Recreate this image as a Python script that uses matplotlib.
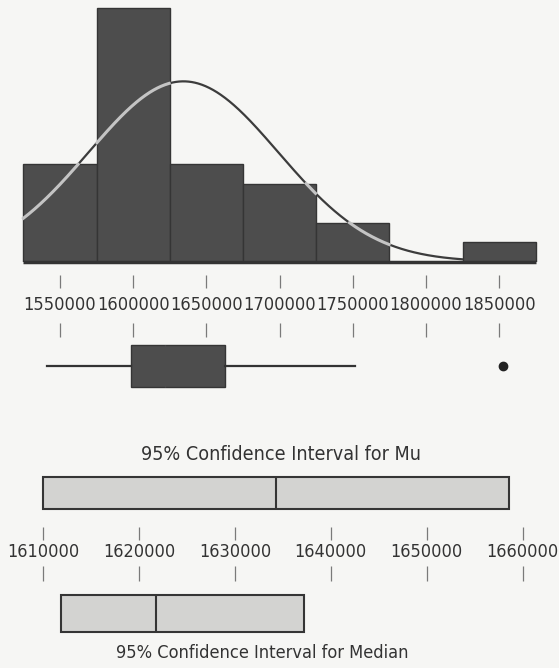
import numpy as np
import matplotlib
matplotlib.use("Agg")
import matplotlib.pyplot as plt
from matplotlib import font_manager as fm

# histogram of the 30 observations (Minitab style midpoints)
midpoints = [1550000, 1600000, 1650000, 1700000, 1750000, 1800000, 1850000]
counts = [5, 13, 5, 4, 2, 0, 1]
bin_width = 50000

# fitted normal curve
mean = 1634300
sd = 64800

# boxplot stats
q1 = 1598300
median = 1621730
q3 = 1662900
whisker_lo = 1540900
whisker_hi = 1751500
outliers = [1852800]

# confidence intervals
mu_ci = (1610000, 1658600)
median_ci = (1611850, 1637220)

top_ticks = [1550000, 1600000, 1650000, 1700000, 1750000, 1800000, 1850000]
bot_ticks = [1610000, 1620000, 1630000, 1640000, 1650000, 1660000]

W, H = 559, 668
bg = "#f6f6f4"
dark = "#4d4d4d"
edge = "#353535"
light_fill = "#d3d3d1"
tick_col = "#7a7a7a"
txt_col = "#333333"

top_xlim = (1509000, 1890850)
bot_xlim = (1605500, 1663800)

# pick the narrowest sans available
font_kw = dict(family="DejaVu Sans")
for fam, stretch in [("Liberation Sans Narrow", "normal"), ("DejaVu Sans", "condensed")]:
    try:
        path = fm.findfont(fm.FontProperties(family=fam, stretch=stretch), fallback_to_default=False)
        if "Narrow" in path or "Condensed" in path:
            font_kw = dict(family=fam, stretch=stretch)
            break
    except Exception:
        pass


def band(top, bottom):
    return [0, 1 - bottom / H, 1, (bottom - top) / H]


fig = plt.figure(figsize=(W / 100, H / 100), dpi=100, facecolor=bg)
renderer = fig.canvas.get_renderer()


def fit_text(t, width_px, max_size):
    # shrink/grow font so the label is as wide as in the reference
    t.set_fontsize(20)
    w = t.get_window_extent(renderer).width
    t.set_fontsize(min(max_size, 20 * width_px / w))


# ---- histogram ----
ax_h = fig.add_axes(band(0, 261.7))
ax_h.set_facecolor(bg)
ax_h.set_xlim(*top_xlim)
ax_h.set_ylim(0, 13.4)
ax_h.axis("off")
ax_h.bar(midpoints, counts, width=bin_width, color=dark, edgecolor=edge, linewidth=1)
edges = np.array(midpoints) - bin_width / 2
ax_h.hlines(0, edges[0], edges[-1] + bin_width, color="#333333", lw=2.5, clip_on=False)

xs = np.linspace(edges[0], edges[-1], 700)
ys = sum(counts) * bin_width / (sd * np.sqrt(2 * np.pi)) * np.exp(-0.5 * ((xs - mean) / sd) ** 2)
idx = np.clip(((xs - edges[0]) // bin_width).astype(int), 0, len(counts) - 1)
inside = ys <= np.array(counts)[idx]
ax_h.plot(xs, np.where(~inside, ys, np.nan), color="#3c3c3c", lw=1.6)
ax_h.plot(xs, np.where(inside, ys, np.nan), color="#c4c4c4", lw=2.2)

# ---- top axis strip + boxplot ----
ax_t = fig.add_axes(band(262, 420))
ax_t.set_xlim(*top_xlim)
ax_t.set_ylim(420, 262)
ax_t.axis("off")
ax_t.vlines(top_ticks, 275, 288, color=tick_col, lw=0.9)
ax_t.vlines(top_ticks, 323, 337, color=tick_col, lw=0.9)
for t in top_ticks:
    lab = ax_t.text(t, 305, str(t), ha="center", va="center", color=txt_col, **font_kw)
    fit_text(lab, 72.5, 17)

stats = [dict(med=median, q1=q1, q3=q3, whislo=whisker_lo, whishi=whisker_hi,
              fliers=outliers)]
ax_t.bxp(stats, positions=[366], widths=42, vert=False, patch_artist=True,
         showcaps=False, manage_ticks=False,
         boxprops=dict(facecolor=dark, edgecolor=edge, lw=1),
         medianprops=dict(color=dark, lw=1),
         whiskerprops=dict(color="#333333", lw=1.6),
         flierprops=dict(marker="o", markersize=6, markerfacecolor="#222222",
                         markeredgecolor="#222222"))

# ---- confidence intervals ----
ax_b = fig.add_axes(band(420, 668))
ax_b.set_xlim(*bot_xlim)
ax_b.set_ylim(668, 420)
ax_b.axis("off")

mu_title = ax_b.text(0.503, 455, "95% Confidence Interval for Mu",
                     transform=ax_b.get_yaxis_transform(),
                     ha="center", va="center", color=txt_col, **font_kw)
fit_text(mu_title, 280, 18)
ax_b.barh(493, mu_ci[1] - mu_ci[0], left=mu_ci[0], height=32,
          color=light_fill, edgecolor=edge, lw=1.5)
ax_b.vlines(mean, 477, 509, color=edge, lw=1.5)

ax_b.vlines(bot_ticks, 527, 540, color=tick_col, lw=0.9)
ax_b.vlines(bot_ticks, 566, 581, color=tick_col, lw=0.9)
for t in bot_ticks:
    lab = ax_b.text(t, 552, str(t), ha="center", va="center", color=txt_col, **font_kw)
    fit_text(lab, 72, 17)

ax_b.barh(613.5, median_ci[1] - median_ci[0], left=median_ci[0], height=37,
          color=light_fill, edgecolor=edge, lw=1.5)
ax_b.vlines(median, 595, 632, color=edge, lw=1.5)
med_title = ax_b.text(0.47, 653, "95% Confidence Interval for Median",
                      transform=ax_b.get_yaxis_transform(),
                      ha="center", va="center", color=txt_col, **font_kw)
fit_text(med_title, 294, 18)

fig.savefig("out.png", dpi=100, facecolor=bg)
